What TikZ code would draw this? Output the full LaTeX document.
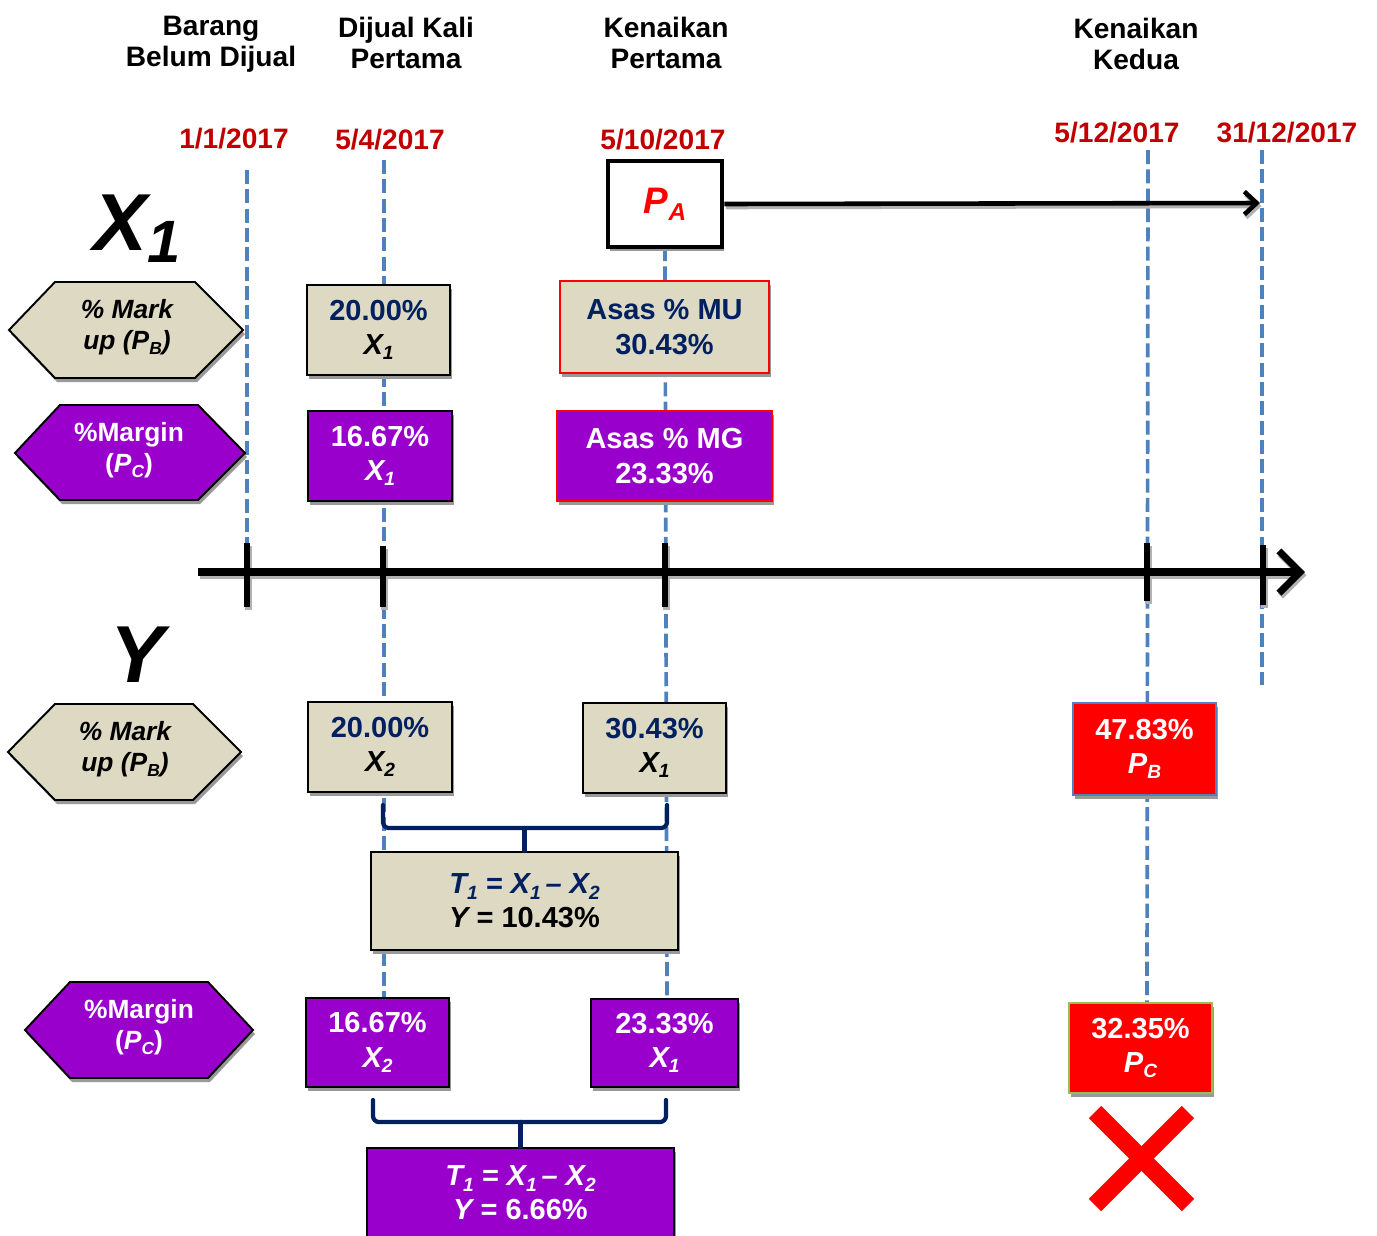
\documentclass[tikz,border=0pt]{standalone}
\usepackage{fontspec}
\setmainfont{Liberation Sans}
\usetikzlibrary{arrows.meta,shadows}
\definecolor{tanfill}{HTML}{DDD9C3}
\definecolor{purp}{HTML}{9900CC}
\definecolor{navy}{HTML}{002060}
\definecolor{dred}{HTML}{C00000}
\definecolor{gblue}{HTML}{4F81BD}
\definecolor{ggreen}{HTML}{9BBB59}
\newcommand{\sbx}[1]{\raisebox{-0.35ex}{\scalebox{0.66}{#1}}}
\begin{document}
\begin{tikzpicture}[x=0.02cm,y=-0.02cm,
  shd/.style={drop shadow={shadow xshift=0.04cm, shadow yshift=-0.08cm, fill=black!40, opacity=1}},
  bx/.style={draw=black, line width=1.1pt, inner sep=0pt, align=center, shd,
    font=\fontsize{16.5}{19.5}\selectfont\bfseries},
  tanbx/.style={bx, fill=tanfill, text=navy},
  purbx/.style={bx, fill=purp, text=white},
  redbx/.style={bx, fill=red, text=white},
  guide/.style={gblue, line width=2.1pt, dash pattern=on 8pt off 3pt},
  hexa/.style={draw=black, line width=1.1pt, shd},
  hexlbl/.style={align=center, inner sep=0pt, font=\fontsize{15}{18}\selectfont\bfseries},
  brace/.style={navy, line width=2.4pt, rounded corners=0.12cm, line cap=round},
  hdr/.style={align=center, inner sep=0pt, font=\fontsize{16}{17.6}\selectfont\bfseries},
  datel/.style={anchor=base, inner sep=0pt, text=dred, font=\fontsize{16}{18}\selectfont\bfseries},
  tick/.style={black, line width=3.8pt},
  lsh/.style={black!30, transform canvas={xshift=0.03cm, yshift=-0.06cm}},
  big/.style={anchor=base west, inner sep=0pt, font=\fontsize{46}{46}\selectfont\bfseries\itshape}
]
\useasboundingbox (0,0) rectangle (1377,1235);

% headers
\node[hdr] (h1) at (211,44) {Barang\\Belum Dijual};
\node[hdr] (h2) at (406,43) {Dijual Kali\\Pertama};
\node[hdr] (h3) at (666,43) {Kenaikan\\Pertama};
\node[hdr] (h4) at (1136,44) {Kenaikan\\Kedua};

% dates
\node[datel] (d1) at (234,148) {1/1/2017};
\node[datel] (d2) at (390,149) {5/4/2017};
\node[datel] (d3) at (663,149) {5/10/2017};
\node[datel] (d4) at (1117,142) {5/12/2017};
\node[datel] (d5) at (1287,142) {31/12/2017};

% guide coordinates
\coordinate (g1a) at (247,170); \coordinate (g1b) at (247,545);
\coordinate (g2a) at (384,160); \coordinate (g2b) at (384,998);
\coordinate (g3a) at (665,247); \coordinate (g3b) at (667,999);
\coordinate (g4a) at (1148,150); \coordinate (g4b) at (1147,1003);
\coordinate (g5a) at (1262,150); \coordinate (g5b) at (1262,685);
\draw[guide] (g1a) -- (g1b);
\draw[guide] (g2a) -- (g2b);
\draw[guide] (g3a) -- (g3b);
\draw[guide] (g4a) -- (g4b);
\draw[guide] (g5a) -- (g5b);

% axis
\coordinate (ax0) at (198,572); \coordinate (ax1) at (1305,572);
\coordinate (k1a) at (247,543); \coordinate (k1b) at (247,607);
\coordinate (k2a) at (383,546); \coordinate (k2b) at (383,607);
\coordinate (k3a) at (665,543); \coordinate (k3b) at (665,607);
\coordinate (k4a) at (1147,543); \coordinate (k4b) at (1147,601);
\coordinate (k5a) at (1263,545); \coordinate (k5b) at (1263,605);
\draw[lsh, line width=4pt, -{Straight Barb[length=12pt,width=24pt]}] (ax0) -- (ax1);
\draw[lsh, line width=3.8pt] (k1a) -- (k1b) (k2a) -- (k2b) (k3a) -- (k3b) (k4a) -- (k4b) (k5a) -- (k5b);
\draw[black, line width=4pt, -{Straight Barb[length=12pt,width=24pt]}] (ax0) -- (ax1);
\draw[tick] (k1a) -- (k1b);
\draw[tick] (k2a) -- (k2b);
\draw[tick] (k3a) -- (k3b);
\draw[tick] (k4a) -- (k4b);
\draw[tick] (k5a) -- (k5b);

% big labels
\node[big] (bigx) at (93,250) {X\raisebox{-7pt}{\fontsize{34}{34}\selectfont 1}};
\node[big] (bigy) at (110,682) {Y};

% hexagons
\draw[hexa, fill=tanfill] (9,330) -- (55,282) -- (195,282) -- (243,330) -- (195,378) -- (55,378) -- cycle;
\node[hexlbl, text=black] (hx1) at (127,327) {\itshape\% Mark\\\itshape up (P\sbx{B})};
\draw[hexa, fill=purp] (15,453) -- (60,405) -- (198,405) -- (245,453) -- (198,500) -- (60,500) -- cycle;
\node[hexlbl, text=white] (hx2) at (129,450) {\%Margin\\({\itshape P\sbx{C}})};
\draw[hexa, fill=tanfill] (8,752) -- (55,704) -- (193,704) -- (241,752) -- (193,800) -- (55,800) -- cycle;
\node[hexlbl, text=black] (hx3) at (125,749) {\itshape\% Mark\\\itshape up (P\sbx{B})};
\draw[hexa, fill=purp] (25,1030) -- (70,982) -- (208,982) -- (253,1030) -- (208,1078) -- (70,1078) -- cycle;
\node[hexlbl, text=white] (hx4) at (139,1027) {\%Margin\\({\itshape P\sbx{C}})};

% PA box and arrow
\node[bx, fill=white, line width=2.6pt, minimum width=2.28cm, minimum height=1.72cm,
  font=\fontsize{21}{24}\selectfont\bfseries\itshape, text=red] (pa) at (665,204) {P\sbx{A}};
\coordinate (paend) at (1260,203);
\draw[lsh, line width=2.6pt, -{Straight Barb[length=7pt,width=13pt]}] (pa.east) -- (paend);
\draw[black, line width=2.6pt, -{Straight Barb[length=7pt,width=13pt]}] (pa.east) -- (paend);

% X1 row boxes
\node[tanbx, minimum width=2.86cm, minimum height=1.80cm] (b1) at (378.5,330) {20.00\%\\{\color{black}\itshape X\sbx{1}}};
\node[purbx, minimum width=2.88cm, minimum height=1.80cm] (b2) at (380,456) {16.67\%\\{\itshape X\sbx{1}}};
\node[tanbx, draw=red, minimum width=4.18cm, minimum height=1.84cm] (b3) at (664.5,327) {Asas \% MU\\30.43\%};
\node[purbx, draw=red, minimum width=4.30cm, minimum height=1.80cm] (b4) at (664.5,456) {Asas \% MG\\23.33\%};

% Y row boxes
\node[tanbx, minimum width=2.88cm, minimum height=1.80cm] (y1) at (380,747) {20.00\%\\{\color{black}\itshape X\sbx{2}}};
\node[tanbx, minimum width=2.86cm, minimum height=1.80cm] (y2) at (654.5,748) {30.43\%\\{\color{black}\itshape X\sbx{1}}};
\node[tanbx, minimum width=6.14cm, minimum height=1.96cm] (t1) at (524.5,901)
  {{\itshape T\sbx{1} = X\sbx{1}\,-- X\sbx{2}}\\{\color{black}{\itshape Y} = 10.43\%}};
\node[redbx, draw=gblue, minimum width=2.86cm, minimum height=1.84cm] (pb) at (1144.5,749) {47.83\%\\{\itshape P\sbx{B}}};
\node[purbx, minimum width=2.86cm, minimum height=1.78cm] (y3) at (377.5,1042.5) {16.67\%\\{\itshape X\sbx{2}}};
\node[purbx, minimum width=2.94cm, minimum height=1.76cm] (y4) at (664.5,1043) {23.33\%\\{\itshape X\sbx{1}}};
\node[purbx, minimum width=6.14cm, minimum height=1.80cm] (t2) at (520.5,1193)
  {{\itshape T\sbx{1} = X\sbx{1}\,-- X\sbx{2}}\\{\itshape Y} = 6.66\%};
\node[redbx, draw=ggreen, minimum width=2.86cm, minimum height=1.80cm] (pc) at (1140.5,1048) {32.35\%\\{\itshape P\sbx{C}}};

% braces
\coordinate (br1l) at (383,805); \coordinate (br1m) at (524.5,828); \coordinate (br1r) at (667,805);
\draw[brace] (br1l) |- (br1m) -| (br1r);
\draw[brace] (br1m) -- (t1.north);
\coordinate (br2l) at (373,1100); \coordinate (br2m) at (520.5,1122); \coordinate (br2r) at (666,1100);
\draw[brace] (br2l) |- (br2m) -| (br2r);
\draw[brace] (br2m) -- (t2.north);

% red cross
\coordinate (xa) at (1095,1112); \coordinate (xb) at (1188,1205);
\coordinate (xc) at (1188,1112); \coordinate (xd) at (1095,1205);
\draw[red, line width=10pt] (xa) -- (xb);
\draw[red, line width=10pt] (xc) -- (xd);
\end{tikzpicture}
\end{document}
